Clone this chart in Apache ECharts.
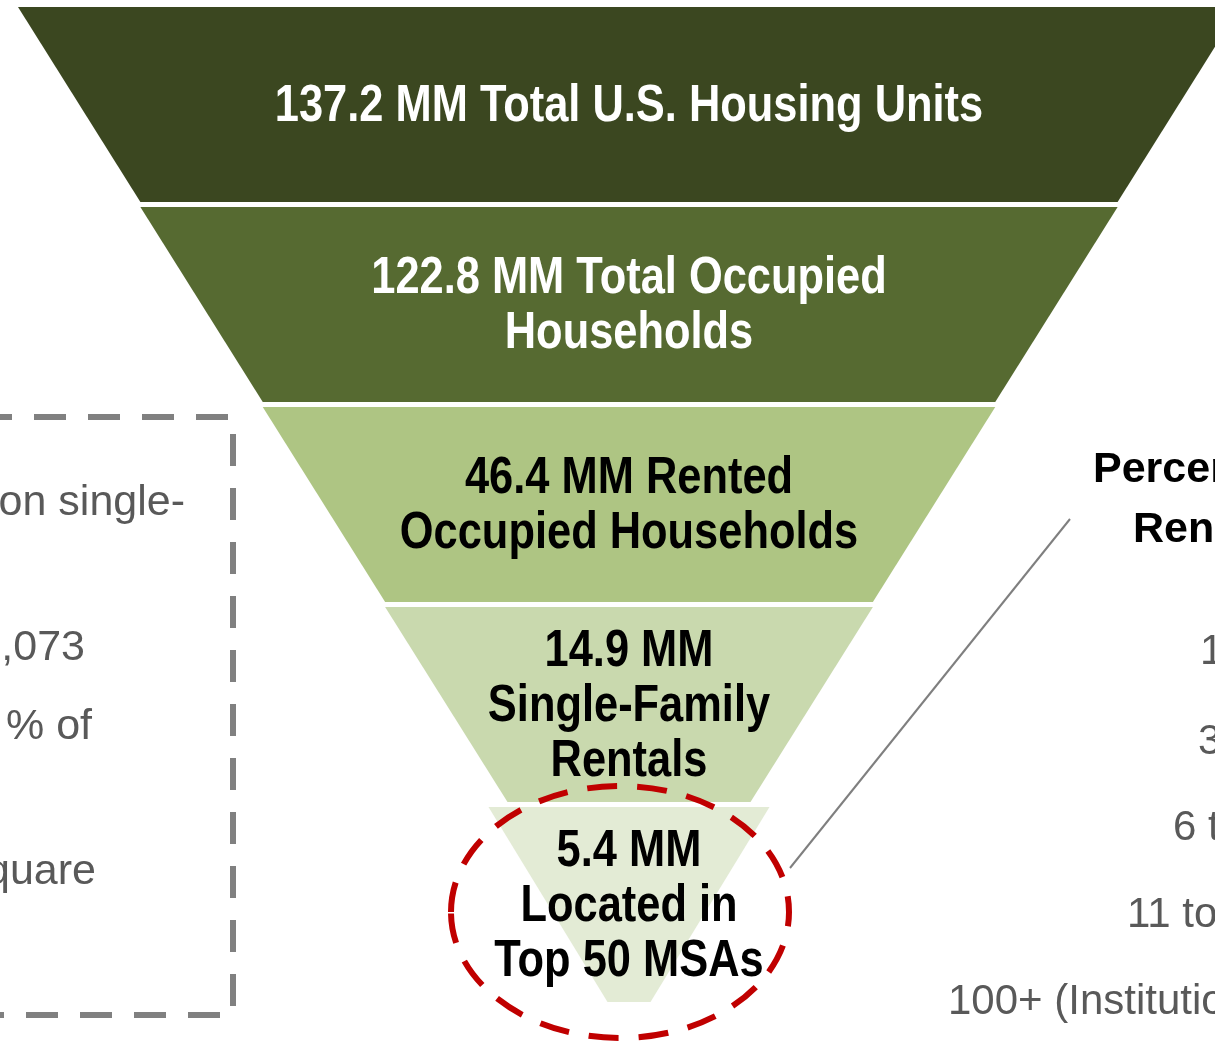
<!DOCTYPE html>
<html>
<head>
<meta charset="utf-8">
<style>
  html, body { margin: 0; padding: 0; background: #ffffff; }
  #chart { width: 1215px; height: 1042px; }
</style>
<script src="https://cdn.jsdelivr.net/npm/echarts@6/dist/echarts.min.js"></script>
</head>
<body>
<div id="chart"></div>
<script>
// ---- Data ----
const values = [137.2, 122.8, 46.4, 14.9, 5.4];           // MM units
const unit = 'MM';
const categories = [
  ' Total U.S. Housing Units',
  ' Total Occupied\nHouseholds',
  ' Rented\nOccupied Households',
  '\nSingle-Family\nRentals',
  '\nLocated in\nTop 50 MSAs'
];
const tierRank = [5, 4, 3, 2, 1];                          // funnel tier (schematic, equal steps)
const tierColors = ['#3b4720', '#566a31', '#aec583', '#c9d9ae', '#e3ebd5'];
const labelColors = ['#ffffff', '#ffffff', '#000000', '#000000', '#000000'];

// side-panel text fragments (cropped in the reference)
const leftNotes = ['on single-', ',073', '% of', 'quare'];
const rightHeader = ['Percen', 'Ren'];
const rightRows = ['1', '3', '6 t', '11 to', '100+ (Institutio'];

const BODY_FONT = "'Liberation Sans', Arial, sans-serif";
const NARROW_SCALE = 0.835;   // Arial-Narrow look from Liberation Sans Bold

function item(i) {
  return {
    value: tierRank[i],
    name: values[i].toFixed(1) + ' ' + unit + categories[i],
    itemStyle: { color: tierColors[i] },
    label: { color: labelColors[i] }
  };
}

const labelCfg = {
  show: false,
  position: 'inside',
  formatter: '{b}',
  fontFamily: "'DejaVu Sans Condensed', sans-serif",
  fontWeight: 'bold',
  fontSize: 41,
  lineHeight: 55,
  align: 'center'
};

const chart = echarts.init(document.getElementById('chart'), null, { renderer: 'canvas' });

const graphics = [];
// dashed box at left
graphics.push({
  type: 'polyline', z: 10,
  shape: { points: [[-20, 417], [233, 417], [233, 1015], [-20, 1015]] },
  style: { stroke: '#808080', lineWidth: 6, lineDash: [32, 22], fill: null }
});
const leftPos = [[185, 503], [85, 648], [92, 727], [96, 872]];
leftNotes.forEach((t, i) => graphics.push({
  type: 'text', z: 10,
  x: leftPos[i][0], y: leftPos[i][1],
  style: { text: t, fill: '#595959', font: '43px ' + BODY_FONT, align: 'right', verticalAlign: 'middle' }
}));
// right side header
const headPos = [[1093, 470], [1133, 530]];
rightHeader.forEach((t, i) => graphics.push({
  type: 'text', z: 10,
  x: headPos[i][0], y: headPos[i][1],
  style: { text: t, fill: '#000000', font: 'bold 43px ' + BODY_FONT, align: 'left', verticalAlign: 'middle' }
}));
const rowPos = [[1200, 652], [1198, 742], [1173, 828], [1127, 915], [948, 1002]];
rightRows.forEach((t, i) => graphics.push({
  type: 'text', z: 10,
  x: rowPos[i][0], y: rowPos[i][1],
  style: { text: t, fill: '#595959', font: '42px ' + BODY_FONT, align: 'left', verticalAlign: 'middle' }
}));
// connector line
graphics.push({
  type: 'line', z: 10,
  shape: { x1: 790, y1: 868, x2: 1070, y2: 519 },
  style: { stroke: '#7f7f7f', lineWidth: 2 }
});
// red dashed ellipse highlight
graphics.push({
  type: 'ellipse', z: 20,
  shape: { cx: 620, cy: 912, rx: 169, ry: 126 },
  style: { stroke: '#c00000', lineWidth: 6, lineDash: [30, 20], fill: null }
});

const seriesBase = {
  type: 'funnel',
  sort: 'none',
  label: labelCfg,
  labelLine: { show: false },
  itemStyle: { borderWidth: 0 },
  emphasis: { disabled: true }
};

chart.setOption({
  animation: false,
  backgroundColor: '#ffffff',
  series: [
    Object.assign({}, seriesBase, {
      left: 18, top: 7, width: 1222, height: 795,
      gap: 5, min: 1, max: 5, minSize: 243, maxSize: 1222,
      data: [0, 1, 2, 3].map(item)
    }),
    Object.assign({}, seriesBase, {
      left: 18, top: 807, width: 1222, height: 195,
      gap: 0, min: 0, max: 1, minSize: 43, maxSize: 281,
      data: [4].map(item)
    })
  ],
  graphic: graphics
});

// Narrow bold labels, centred on each funnel tier as laid out by the library
try {
  const model = chart.getModel();
  const overlay = [];
  [0, 1].forEach(function (s) {
    const data = model.getSeriesByIndex(s).getData();
    for (let k = 0; k < data.count(); k++) {
      const pts = data.getItemLayout(k).points;
      const cx = (pts[0][0] + pts[1][0] + pts[2][0] + pts[3][0]) / 4;
      const cy = (pts[0][1] + pts[2][1]) / 2;
      const gi = s === 0 ? k : 4;
      overlay.push({
        type: 'text', z: 15,
        x: cx, y: cy + 2, scaleX: NARROW_SCALE,
        style: {
          text: data.getName(k),
          fill: labelColors[gi],
          font: 'bold 52px ' + BODY_FONT,
          lineHeight: 55,
          align: 'center',
          verticalAlign: 'middle'
        }
      });
    }
  });
  chart.setOption({ graphic: graphics.concat(overlay) });
} catch (e) {
  chart.setOption({ series: [{ label: { show: true } }, { label: { show: true } }] });
}
</script>
</body>
</html>
